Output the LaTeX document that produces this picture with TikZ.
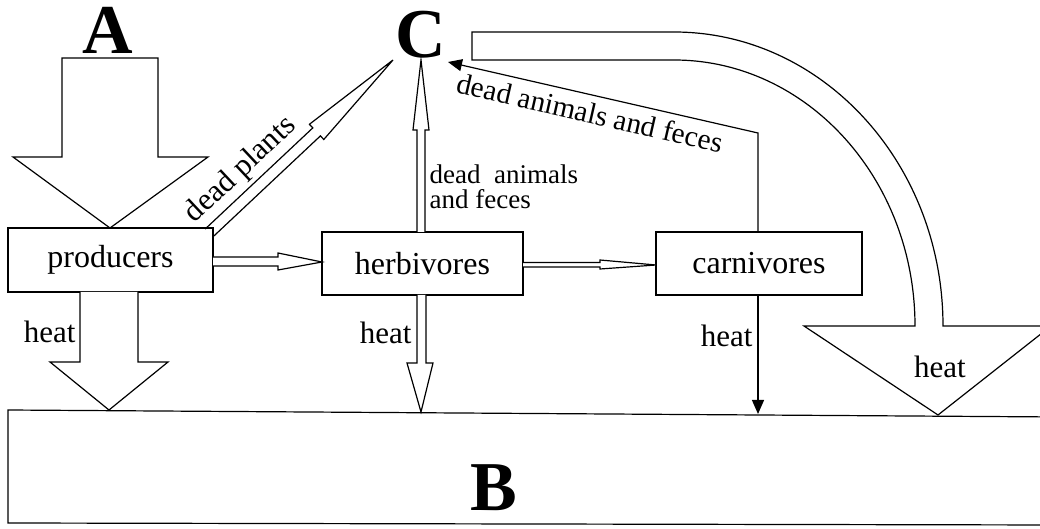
\documentclass[tikz,border=0pt]{standalone}
\usepackage{fontspec}
\setmainfont{Liberation Serif}
\usetikzlibrary{arrows.meta,calc}
\begin{document}
\begin{tikzpicture}[x=0.5pt,y=-0.5pt,line width=0.6pt,line join=miter,
  box/.style={draw,rectangle,inner sep=0pt,minimum height=31.5pt,font=\fontsize{16}{19}\selectfont},
  blockarrow/.style={draw,fill=white},
  bigletter/.style={inner sep=0pt,font=\fontsize{35}{40}\selectfont\bfseries},
  lbl/.style={inner sep=0pt,font=\fontsize{15.5}{18}\selectfont},
  thinarrow/.style={-{Triangle[width=6pt,length=7pt]}}]
\useasboundingbox (0,0) rectangle (1040,529);
\clip (0,0) rectangle (1040,529);

% B reservoir (right side runs off the picture)
\draw (1060,417) -- (8,410) -- (8,523) -- (1060,525);
\node[bigletter] (B) at (494,488) {B};

% letters A and C
\node[bigletter] (A) at (108,30) {A};
\node[bigletter] (C) at (421,35) {C};

% big arrow A -> producers
\draw[blockarrow] (62,58) -- (158,58) -- (158,157) -- (208,157) -- (110,228)
  -- (13,157) -- (62,157) -- cycle;

% dead plants arrow
\draw[blockarrow] (212.8,237) -- (320.4,135.9) -- (323.8,139.5) -- (393,60)
  -- (309.4,124.3) -- (312.8,127.9) -- (205.2,229);
\node[lbl,rotate=43.2] (dp) at (241,170) {dead plants};

% curved heat arrow
\draw[blockarrow] (472,32) -- (674,32) .. controls (822.6,32) and (943,163.6) .. (943,326)
  -- (1051,326) -- (938,415) -- (804,326) -- (915,326)
  .. controls (915,179.1) and (807.1,60) .. (674,60) -- (472,60) -- cycle;
\node[lbl] (hbig) at (940,367) {heat};

% boxes
\node[box,minimum width=102.5pt,minimum height=32pt] (prod) at (110.5,260) {producers};
\node[box,minimum width=100.5pt] (herb) at (422.5,263.5) {herbivores};
\node[box,minimum width=103pt] (carn) at (759,263.5) {carnivores};

% producers -> herbivores
\draw[blockarrow] (213,257) -- (278,257) -- (278,253) -- (322,262) -- (278,270)
  -- (278,266) -- (213,266);
% herbivores -> carnivores
\draw[blockarrow] (523,262.5) -- (600,262.5) -- (600,260) -- (656,265) -- (600,269)
  -- (600,267) -- (523,267);

% herbivores -> C
\draw[blockarrow] (417,232) -- (417,130) -- (413,130) -- (421,60) -- (429,130)
  -- (425,130) -- (425,232);
\node[anchor=north west,align=left,inner sep=0pt,font=\fontsize{13.5}{12.5}\selectfont]
  (daf) at (429,164) {dead\ \ animals\\and feces};

% producers heat
\draw[blockarrow] (80,292) -- (80,362) -- (50,362) -- (109,410) -- (168,362)
  -- (138,362) -- (138,292);
\node[lbl,anchor=east] (hp) at (76,332) {heat};

% herbivores heat
\draw[blockarrow] (417,295) -- (417,363) -- (407,363) -- (421,412) -- (433,363)
  -- (426,363) -- (426,295);
\node[lbl,anchor=east] (hh) at (412,333) {heat};

% carnivores heat
\coordinate (cheat) at (758,414);
\draw[thinarrow] (carn.south -| cheat) -- (cheat);
\node[lbl,anchor=east] (hc) at (753,336) {heat};

% carnivores -> C
\coordinate (bend) at (758,133);
\coordinate (Ctip) at (448,62);
\draw[thinarrow] (carn.north -| bend) -- (bend) -- (Ctip);
\node[inner sep=0pt,font=\fontsize{14.7}{17}\selectfont,rotate=-12.9] (daf2) at (590,113)
  {dead animals and feces};
\end{tikzpicture}
\end{document}
